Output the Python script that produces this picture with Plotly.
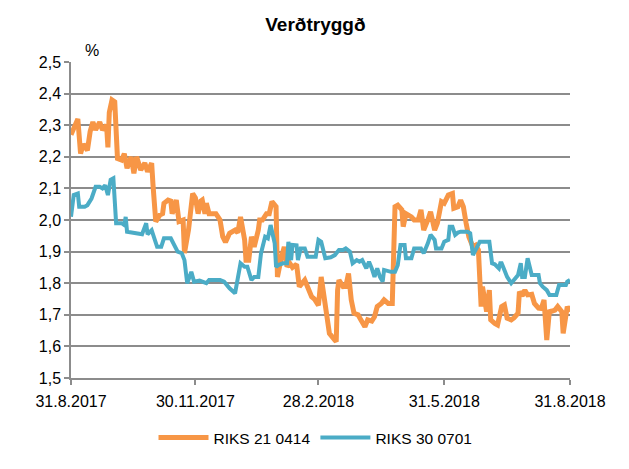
import plotly.graph_objects as go

title = "Verðtryggð"
name_a = "RIKS 21 0414"
name_b = "RIKS 30 0701"

dates_a = ["2017-08-31","2017-09-05","2017-09-07","2017-09-09","2017-09-12","2017-09-14","2017-09-16","2017-09-18",
"2017-09-21","2017-09-23","2017-09-26","2017-09-27","2017-09-28","2017-09-30","2017-10-02","2017-10-04","2017-10-07",
"2017-10-09","2017-10-11","2017-10-14","2017-10-16","2017-10-18","2017-10-21","2017-10-24","2017-10-26","2017-10-29",
"2017-10-30","2017-11-01","2017-11-04","2017-11-06","2017-11-07","2017-11-10","2017-11-12","2017-11-13","2017-11-16",
"2017-11-18","2017-11-21","2017-11-22","2017-11-25","2017-11-28","2017-11-30","2017-12-02","2017-12-04","2017-12-05",
"2017-12-07","2017-12-08","2017-12-10","2017-12-15","2017-12-18","2017-12-20","2017-12-22","2017-12-25","2017-12-29",
"2017-12-31","2018-01-02","2018-01-05","2018-01-06","2018-01-08","2018-01-10","2018-01-12","2018-01-15","2018-01-16",
"2018-01-18","2018-01-21","2018-01-23","2018-01-25","2018-01-28","2018-01-29","2018-02-01","2018-02-03","2018-02-05",
"2018-02-07","2018-02-09","2018-02-12","2018-02-14","2018-02-18","2018-02-20","2018-02-23","2018-02-25","2018-02-28",
"2018-03-02","2018-03-05","2018-03-08","2018-03-12","2018-03-13","2018-03-14","2018-03-15","2018-03-18","2018-03-20",
"2018-03-22","2018-03-24","2018-03-26","2018-03-29","2018-03-31","2018-04-03","2018-04-05","2018-04-08","2018-04-10",
"2018-04-12","2018-04-15","2018-04-17","2018-04-20","2018-04-23","2018-04-25","2018-04-27","2018-04-30","2018-05-01",
"2018-05-03","2018-05-07","2018-05-09","2018-05-12","2018-05-14","2018-05-16","2018-05-19","2018-05-21","2018-05-24",
"2018-05-26","2018-05-29","2018-05-31","2018-06-03","2018-06-06","2018-06-07","2018-06-10","2018-06-12","2018-06-14",
"2018-06-16","2018-06-18","2018-06-21","2018-06-23","2018-06-25","2018-06-27","2018-06-28","2018-07-01","2018-07-03",
"2018-07-04","2018-07-07","2018-07-09","2018-07-12","2018-07-14","2018-07-16","2018-07-19","2018-07-21","2018-07-24",
"2018-07-25","2018-07-27","2018-07-29","2018-07-31","2018-08-03","2018-08-05","2018-08-08","2018-08-10","2018-08-12",
"2018-08-14","2018-08-16","2018-08-17","2018-08-20","2018-08-22","2018-08-25","2018-08-26","2018-08-29","2018-08-31"]
values_a = [2.27,2.32,2.21,2.24,2.22,2.28,2.31,2.285,
2.31,2.285,2.30,2.23,2.34,2.38,2.374,2.195,2.19,
2.21,2.164,2.20,2.148,2.20,2.158,2.18,2.153,2.18,
2.11,1.995,2.016,2.02,2.053,2.063,2.06,2.02,2.063,
1.995,2.0,1.895,1.97,2.084,2.07,2.02,2.06,2.063,
2.02,2.053,2.02,2.02,2.0,1.947,1.93,1.958,1.968,
1.96,2.01,1.937,1.873,1.873,1.947,1.915,1.968,2.0,
2.0,2.02,2.02,2.058,2.042,1.82,1.884,1.915,1.852,
1.863,1.85,1.86,1.789,1.81,1.789,1.757,1.75,1.73,
1.82,1.726,1.641,1.62,1.615,1.778,1.81,1.789,1.79,
1.831,1.747,1.705,1.70,1.684,1.662,1.684,1.68,1.694,
1.726,1.736,1.747,1.736,1.736,2.042,2.047,2.032,1.979,
2.02,2.01,2.0,2.0,2.032,1.968,2.0,2.026,1.968,
1.99,2.058,2.053,2.079,2.084,2.037,2.042,2.063,2.042,
1.99,1.947,1.915,1.92,1.905,1.726,1.789,1.71,1.778,
1.684,1.673,1.668,1.726,1.731,1.689,1.684,1.69,1.705,
1.773,1.76,1.778,1.763,1.765,1.736,1.721,1.72,1.747,
1.62,1.715,1.71,1.715,1.726,1.71,1.641,1.726,1.71]

dates_b = ["2017-08-31","2017-09-02","2017-09-05","2017-09-06","2017-09-10","2017-09-12","2017-09-15","2017-09-18",
"2017-09-21","2017-09-23","2017-09-25","2017-09-27","2017-09-29","2017-10-01","2017-10-03","2017-10-07","2017-10-09",
"2017-10-10","2017-10-11","2017-10-15","2017-10-19","2017-10-22","2017-10-25","2017-10-26","2017-10-29","2017-10-31",
"2017-11-02","2017-11-05","2017-11-07","2017-11-12","2017-11-15","2017-11-17","2017-11-20","2017-11-22","2017-11-24",
"2017-11-27","2017-11-29","2017-12-03","2017-12-08","2017-12-10","2017-12-13","2017-12-18","2017-12-21","2017-12-25",
"2017-12-29","2017-12-31","2018-01-02","2018-01-05","2018-01-07","2018-01-10","2018-01-12","2018-01-15","2018-01-17",
"2018-01-20","2018-01-22","2018-01-24","2018-01-27","2018-01-28","2018-01-30","2018-02-02","2018-02-05","2018-02-06",
"2018-02-08","2018-02-09","2018-02-12","2018-02-13","2018-02-15","2018-02-18","2018-02-20","2018-02-26","2018-02-28",
"2018-03-02","2018-03-05","2018-03-09","2018-03-12","2018-03-15","2018-03-18","2018-03-20","2018-03-23","2018-03-25",
"2018-03-28","2018-03-30","2018-04-01","2018-04-04","2018-04-06","2018-04-08","2018-04-10","2018-04-12","2018-04-14",
"2018-04-16","2018-04-17","2018-04-22","2018-04-25","2018-04-27","2018-04-29","2018-05-02","2018-05-03","2018-05-07",
"2018-05-09","2018-05-14","2018-05-16","2018-05-19","2018-05-21","2018-05-24","2018-05-25","2018-05-29","2018-05-31",
"2018-06-03","2018-06-04","2018-06-06","2018-06-08","2018-06-10","2018-06-12","2018-06-17","2018-06-19","2018-06-21",
"2018-06-23","2018-06-26","2018-07-03","2018-07-05","2018-07-07","2018-07-10","2018-07-11","2018-07-12","2018-07-14",
"2018-07-16","2018-07-19","2018-07-21","2018-07-24","2018-07-26","2018-07-27","2018-07-29","2018-07-31","2018-08-03",
"2018-08-08","2018-08-09","2018-08-11","2018-08-14","2018-08-16","2018-08-21","2018-08-23","2018-08-28","2018-08-29",
"2018-08-31"]
values_b = [2.01,2.079,2.084,2.042,2.042,2.047,2.068,2.105,
2.105,2.10,2.11,2.079,2.127,2.132,1.99,1.99,1.984,
2.01,1.963,1.96,1.958,1.955,1.99,1.955,1.968,1.942,
1.915,1.915,1.942,1.942,1.915,1.90,1.895,1.873,1.80,
1.836,1.805,1.808,1.80,1.81,1.81,1.81,1.805,1.784,
1.768,1.81,1.863,1.852,1.852,1.81,1.82,1.82,1.895,
1.947,1.942,1.984,1.926,1.852,1.858,1.863,1.863,1.931,
1.873,1.921,1.92,1.873,1.91,1.91,1.884,1.884,1.937,
1.931,1.879,1.882,1.889,1.905,1.905,1.91,1.90,1.863,
1.873,1.868,1.873,1.847,1.868,1.847,1.82,1.847,1.82,
1.805,1.842,1.836,1.836,1.857,1.921,1.921,1.879,1.879,
1.91,1.91,1.895,1.926,1.953,1.937,1.91,1.91,1.931,
1.937,1.979,1.979,1.953,1.96,1.963,1.963,1.958,1.889,
1.905,1.931,1.931,1.863,1.86,1.847,1.863,1.863,1.842,
1.82,1.80,1.81,1.826,1.863,1.82,1.82,1.879,1.826,
1.826,1.80,1.789,1.778,1.763,1.763,1.794,1.794,1.805,
1.81]

tick_dates = ["2017-08-31", "2017-11-30", "2018-02-28", "2018-05-31", "2018-08-31"]
tick_labels = ["31.8.2017", "30.11.2017", "28.2.2018", "31.5.2018", "31.8.2018"]
y_ticks = [1.5, 1.6, 1.7, 1.8, 1.9, 2.0, 2.1, 2.2, 2.3, 2.4, 2.5]

color_a = "#F79646"
color_b = "#4BACC6"
grid = "#8C8C8C"
font_family = "Liberation Sans, Arial, sans-serif"

fig = go.Figure()
fig.add_trace(go.Scatter(x=dates_a, y=values_a, mode="lines", name=name_a,
                         line=dict(color=color_a, width=5)))
fig.add_trace(go.Scatter(x=dates_b, y=values_b, mode="lines", name=name_b,
                         line=dict(color=color_b, width=4)))

fig.update_layout(
    width=621, height=461,
    margin=dict(l=63, r=59, t=54, b=91, autoexpand=False),
    paper_bgcolor="white", plot_bgcolor="white",
    separators=",.",
    font=dict(family=font_family, size=16, color="#000000"),
    title=dict(text="<b>" + title + "</b>", x=0.495, xanchor="center", y=0.965, yanchor="middle",
               font=dict(size=19, family=font_family)),
    showlegend=True,
    legend=dict(orientation="h", x=0.49, xanchor="center", y=-0.19, yanchor="middle",
                font=dict(size=15.5), itemwidth=50, tracegroupgap=0),
    xaxis=dict(type="date", range=["2017-08-31", "2018-08-31"], tickvals=tick_dates, ticktext=tick_labels,
               showgrid=False, showline=True, linecolor=grid, linewidth=1.5,
               ticks="outside", ticklen=5, tickcolor=grid, tickwidth=1.5, ticklabelstandoff=3,
               tickfont=dict(size=16), zeroline=False, automargin=False),
    yaxis=dict(range=[1.5, 2.5], tickvals=y_ticks, tickformat=".1f",
               showgrid=True, gridcolor=grid, gridwidth=1.5,
               showline=True, linecolor=grid, linewidth=1.5,
               ticks="outside", ticklen=5, tickcolor=grid, tickwidth=1.5,
               tickfont=dict(size=16), zeroline=False, automargin=False),
    annotations=[dict(text="%", xref="paper", yref="paper", x=0.043, y=1.0, yshift=12,
                      xanchor="center", yanchor="middle", showarrow=False, font=dict(size=16))],
)

fig.write_html("out.html")
